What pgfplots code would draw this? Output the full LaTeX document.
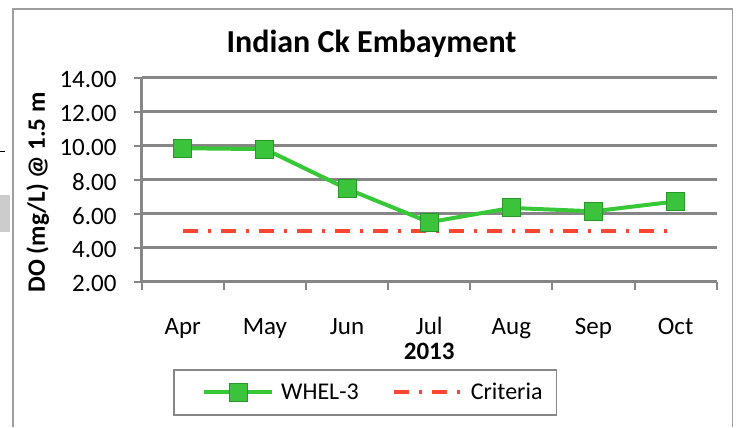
\documentclass[border=0pt]{standalone}
\usepackage{fontspec}
\setmainfont{Carlito}
\usepackage{pgfplots}
\pgfplotsset{compat=1.18}
\definecolor{linegreen}{RGB}{55,200,55}
\definecolor{markgreen}{RGB}{60,195,60}
\definecolor{markedge}{RGB}{40,150,40}
\definecolor{critred}{RGB}{250,70,50}
\definecolor{gridgray}{RGB}{134,134,134}
\begin{document}
\begin{tikzpicture}[x=1bp,y=1bp]
\useasboundingbox (0,0) rectangle (743,427);
% bits of the page clipped at the left edge
\fill[black!20] (0,195.3) rectangle (10,232);
\draw[black, line width=1bp] (0,275.3) -- (4.5,275.3);
% chart area frame
\draw[gridgray!80, line width=1.5bp] (12.8,0) -- (12.8,418) -- (732.5,418) -- (732.5,0);
\begin{axis}[
    at={(141.7bp,145.3bp)}, anchor=south west,
    scale only axis, width=575bp, height=204bp,
    xmin=-0.5, xmax=6.5, ymin=2, ymax=14,
    axis lines*=left,
    axis line style={gridgray, line width=2.5bp},
    ymajorgrids,
    grid style={gridgray, line width=2.5bp},
    tick align=outside, major tick length=8bp,
    tick style={gridgray, line width=2bp},
    xtick={-0.5,0.5,...,6.5},
    x tick label as interval,
    xticklabels={Apr,May,Jun,Jul,Aug,Sep,Oct},
    ytick={2,4,...,14},
    y tick label style={
        /pgf/number format/.cd,
            fixed, fixed zerofill, precision=2,
            assume math mode=true,
        /tikz/.cd
    },
    ticklabel style={font=\fontsize{25bp}{30bp}\selectfont, inner sep=0pt},
    xticklabel style={anchor=base, yshift=-45bp},
    yticklabel style={anchor=east, xshift=-17bp, yshift=-2bp},
    title={Indian Ck Embayment},
    title style={at={(axis description cs:0.3997,1)}, anchor=base, yshift=19.4bp,
        font=\bfseries\fontsize{32bp}{38bp}\selectfont},
    xlabel={2013},
    xlabel style={at={(axis description cs:0.5,0)}, anchor=base, yshift=-77.3bp,
        font=\bfseries\fontsize{25bp}{30bp}\selectfont},
    ylabel={DO (mg/L) @ 1.5 m},
    ylabel style={at={(axis description cs:-0.181,0.438)}, anchor=center,
        font=\bfseries\fontsize{25bp}{30bp}\selectfont},
    legend columns=2,
    legend style={at={(axis description cs:0.389,-0.543)}, anchor=center,
        draw=gridgray, line width=1.5bp,
        font=\fontsize{24bp}{29bp}\selectfont,
        inner xsep=12bp, inner ysep=11.5bp,
        /tikz/every odd column/.append style={column sep=5bp},
        /tikz/every even column/.append style={column sep=15bp}},
    legend image code/.code={%
        \path[draw=none, fill=none] (0bp,0bp) -- (86bp,0bp);
        \draw[#1, mark=none] (18bp,0bp) -- (86bp,0bp);
        \draw[#1] plot coordinates {(52bp,0bp)};},
]
\addplot[linegreen, line width=4bp, mark=square*, mark size=9bp,
    mark options={fill=markgreen, draw=markedge, line width=1bp, solid}]
    coordinates {(0,9.85)(1,9.8)(2,7.46)(3,5.5)(4,6.34)(5,6.14)(6,6.72)};
\addlegendentry{WHEL-3}
\addplot[critred, line width=4bp, dash pattern=on 15bp off 10bp on 3bp off 10bp]
    coordinates {(0,5)(6,5)};
\addlegendentry{Criteria}
\end{axis}
\end{tikzpicture}
\end{document}
